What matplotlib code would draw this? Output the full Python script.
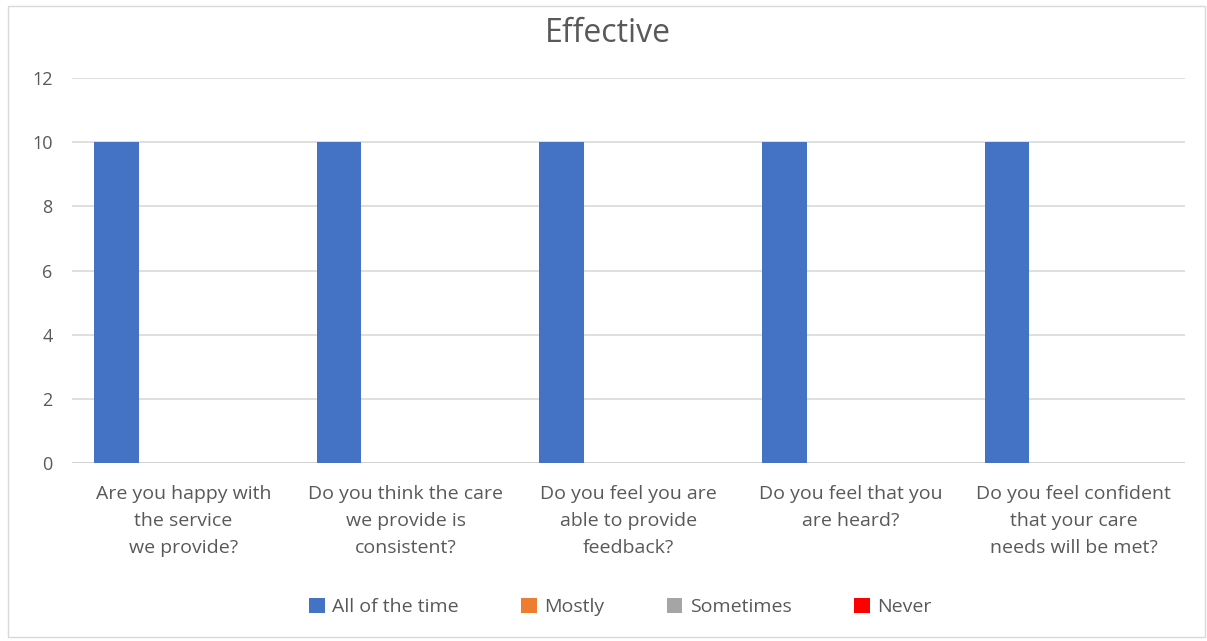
import matplotlib.pyplot as plt
import numpy as np
from matplotlib.patches import Rectangle

# ===================================================
# Data
# ===================================================

categories = [
    "Are you happy with\nthe service\nwe provide?",
    "Do you think the care\nwe provide is\nconsistent?",
    "Do you feel you are\nable to provide\nfeedback?",
    "Do you feel that you\nare heard?",
    "Do you feel confident\nthat your care\nneeds will be met?",
]
series_names = ["All of the time", "Mostly", "Sometimes", "Never"]
all_of_the_time = [10, 10, 10, 10, 10]
mostly = [0, 0, 0, 0, 0]
sometimes = [0, 0, 0, 0, 0]
never = [0, 0, 0, 0, 0]
y_ticks = [0, 2, 4, 6, 8, 10, 12]

colors = ["#4472C4", "#ED7D31", "#A5A5A5", "#FF0000"]
text_color = "#595959"

plt.rcParams["font.family"] = ["Open Sans", "DejaVu Sans"]

fig = plt.figure(figsize=(12.07, 6.41), dpi=100)
ax = fig.add_axes([0.0597, 0.278, 0.922, 0.600])

# outer chart border
fig.patches.append(Rectangle((0.007, 0.006), 0.991, 0.984, transform=fig.transFigure,
                             fill=False, edgecolor="#d9d9d9", linewidth=1.0))

x = np.arange(len(categories))
width = 0.2
values = [all_of_the_time, mostly, sometimes, never]
for i, (name, vals) in enumerate(zip(series_names, values)):
    ax.bar(x + (i - 1.5) * width, vals, width, color=colors[i], label=name, zorder=3)

ax.set_xlim(-0.5, len(categories) - 0.5)
ax.set_ylim(0, 12)
ax.set_yticks(y_ticks)
ax.grid(axis="y", color="#d9d9d9", linewidth=1.2, zorder=0)
ax.set_xticks(x)
ax.set_xticklabels(categories, fontsize=14, color=text_color, linespacing=1.65)
ax.tick_params(axis="y", labelsize=13, colors=text_color, length=0, pad=14)
ax.tick_params(axis="x", length=0, pad=16)
for s in ax.spines.values():
    s.set_visible(False)
ax.axhline(0, color="#d0d0d0", linewidth=1.2, zorder=2)

fig.text(0.504, 0.948, "Effective", ha="center", va="center", fontsize=23, color=text_color)

ax.legend(loc="center", bbox_to_anchor=(0.514, 0.053), bbox_transform=fig.transFigure,
          ncol=4, frameon=False, fontsize=14, handlelength=0.8, handleheight=0.8,
          handletextpad=0.4, columnspacing=3.2, labelcolor=text_color)

fig.savefig("out.png", dpi=100)
